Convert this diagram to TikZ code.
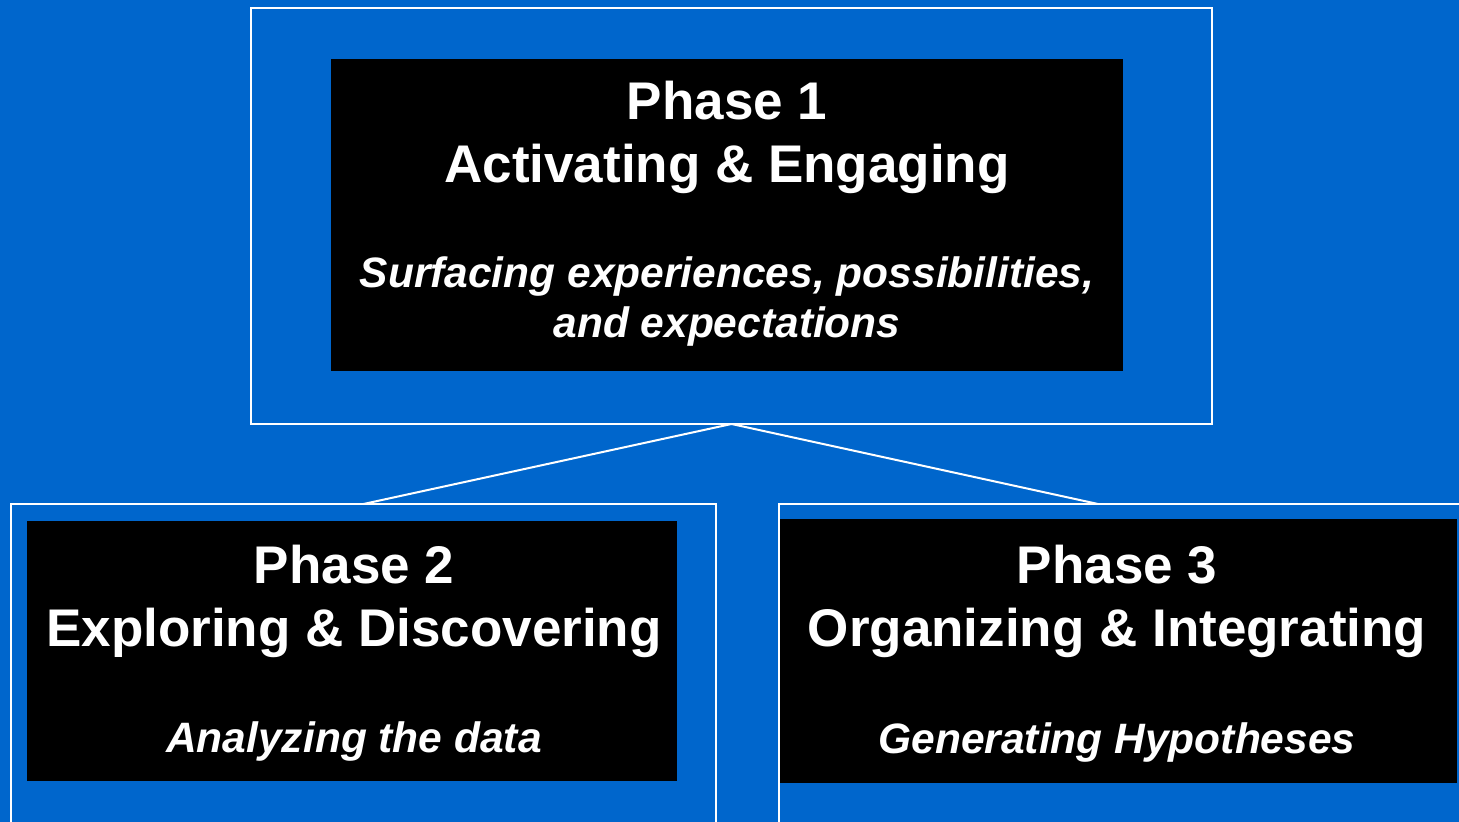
\documentclass[tikz,border=0pt]{standalone}
\usepackage{fontspec}
\setmainfont{Liberation Sans}
\usepackage{xcolor}
\definecolor{Slide}{RGB}{0,102,204}
\tikzset{
  outerbox/.style={draw=white,line width=1pt,inner sep=0pt,outer sep=0pt},
  phasebox/.style={fill=black,inner sep=0pt,outer sep=0pt},
  phasehead/.style={text=white,align=center,anchor=base,inner sep=0pt,
    font=\fontsize{26.5}{31.5}\selectfont\bfseries},
  phasesub/.style={text=white,align=center,anchor=base,inner sep=0pt,
    font=\fontsize{21.25}{25}\selectfont\bfseries\itshape},
  phaselink/.style={white,line width=1pt}
}

\begin{document}
\begin{tikzpicture}[x=0.5pt,y=-0.5pt]
\fill[Slide] (0,0) rectangle (1459,822);
\useasboundingbox (0,0) rectangle (1459,822);
% outer frames
\node[outerbox,minimum width=480.5pt,minimum height=208pt] (out1) at (731.5,216) {};
\node[outerbox,minimum width=352.5pt,minimum height=173pt] (out2) at (363.5,677) {};
\node[outerbox,minimum width=360.5pt,minimum height=173pt] (out3) at (1139.5,677) {};
\coordinate (out3top) at (1098,504);
% links
\draw[phaselink] (out1.south) -- (out2.north);
\draw[phaselink] (out1.south) -- (out3top);
% black cards
\node[phasebox,minimum width=396pt,minimum height=156pt] (card1) at (727,215) {};
\node[phasebox,minimum width=325pt,minimum height=130pt] (card2) at (352,651) {};
\node[phasebox,minimum width=338.5pt,minimum height=132pt] (card3) at (1118.5,651) {};
% texts (base = last line)
\node[phasehead] (head1) at (727,183) {Phase 1\\Activating \& Engaging};
\node[phasesub] (sub1) at (727,338) {Surfacing experiences, possibilities,\\and expectations};
\node[phasehead] (head2) at (354,646) {Phase 2\\Exploring \& Discovering};
\node[phasesub] (sub2) at (354,752) {Analyzing the data};
\node[phasehead] (head3) at (1117,646) {Phase 3\\Organizing \& Integrating};
\node[phasesub] (sub3) at (1117,753) {Generating Hypotheses};
\end{tikzpicture}
\end{document}
